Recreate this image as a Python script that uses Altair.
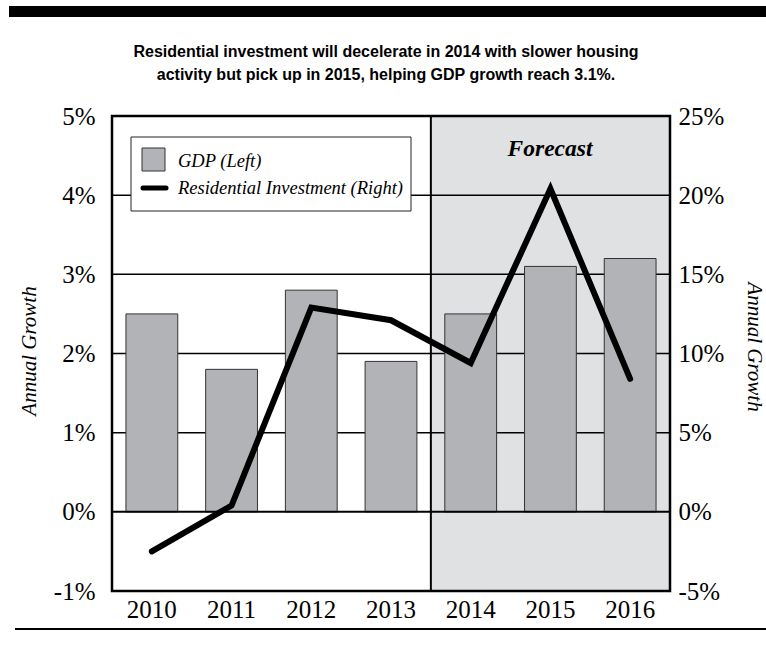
import altair as alt
import pandas as pd

years = ["2010", "2011", "2012", "2013", "2014", "2015", "2016"]
gdp = [2.5, 1.8, 2.8, 1.9, 2.5, 3.1, 3.2]
res_inv = [-2.5, 0.4, 12.9, 12.1, 9.4, 20.4, 8.4]
left_ticks = [-1, 0, 1, 2, 3, 4, 5]
right_ticks = [-5, 0, 5, 10, 15, 20, 25]
grid_vals = [1, 2, 3, 4]
title_lines = [
    "Residential investment will decelerate in 2014 with slower housing",
    "activity but pick up in 2015, helping GDP growth reach 3.1%.",
]
legend_labels = ["GDP (Left)", "Residential Investment (Right)"]
forecast_label = "Forecast"
axis_title = "Annual Growth"

W, H = 558, 475
SERIF = "Liberation Serif"
SANS = "Liberation Sans"

df = pd.DataFrame({"year": years, "gdp": gdp, "res": res_inv})
one = pd.DataFrame({"k": [0]})
grid_df = pd.DataFrame({"v": grid_vals})

xenc = alt.X("year:N", sort=years,
             scale=alt.Scale(paddingInner=0.35, paddingOuter=0.175),
             axis=alt.Axis(title=None, labelAngle=0, ticks=False, domain=False,
                           labelFont=SERIF, labelFontSize=25, labelColor="black",
                           labelPadding=6))

yleft_scale = alt.Scale(domain=[-1, 5], nice=False, zero=False)

shade = alt.Chart(one).mark_rect(color="#e0e1e3").encode(
    x=alt.value(W * 4 / 7), x2=alt.value(W), y=alt.value(0), y2=alt.value(H))

grid = alt.Chart(grid_df).mark_rule(color="black", strokeWidth=1.5).encode(
    y=alt.Y("v:Q", scale=yleft_scale, axis=None))

bars = alt.Chart(df).mark_bar(color="#b1b3b6", stroke="#333333", strokeWidth=1).encode(
    x=xenc,
    y=alt.Y("gdp:Q", scale=yleft_scale,
            axis=alt.Axis(orient="left", values=left_ticks, format=".0f",
                          labelExpr="datum.value + '%'", grid=False, ticks=False,
                          domain=False, labelFont=SERIF, labelFontSize=25,
                          labelColor="black", labelPadding=17,
                          title=axis_title, titleFont=SERIF, titleFontSize=21,
                          titleFontStyle="italic", titleFontWeight="normal",
                          titleColor="black", titleX=-83, titleY=H * 0.5 - 3,
                          titleAngle=270, titleBaseline="middle")),
)

zero = alt.Chart(one).mark_rule(color="black", strokeWidth=2).encode(
    y=alt.Y("z:Q", scale=yleft_scale, axis=None)).transform_calculate(z="0")

line = alt.Chart(df).mark_line(color="black", strokeWidth=6, strokeJoin="miter",
                               strokeCap="round").encode(
    x=alt.X("year:N", sort=years),
    y=alt.Y("res:Q", scale=alt.Scale(domain=[-5, 25], nice=False, zero=False),
            axis=alt.Axis(orient="right", values=right_ticks, format=".0f",
                          labelExpr="datum.value + '%'", grid=False, ticks=False,
                          domain=False, labelFont=SERIF, labelFontSize=25,
                          labelColor="black", labelPadding=8,
                          title=axis_title, titleFont=SERIF, titleFontSize=21,
                          titleFontStyle="italic", titleFontWeight="normal",
                          titleColor="black", titleX=83, titleY=H * 0.5 - 7,
                          titleAngle=90, titleBaseline="middle")),
)

divider = alt.Chart(one).mark_rule(color="black", strokeWidth=2).encode(
    x=alt.value(W * 4 / 7), y=alt.value(0), y2=alt.value(H))

border = alt.Chart(one).mark_rect(filled=False, stroke="black", strokeWidth=2.5).encode(
    x=alt.value(0), x2=alt.value(W), y=alt.value(0), y2=alt.value(H))

leg_box = alt.Chart(one).mark_rect(fill="white", stroke="#222222", strokeWidth=1).encode(
    x=alt.value(19), x2=alt.value(299), y=alt.value(21), y2=alt.value(95))
leg_sw = alt.Chart(one).mark_rect(fill="#b1b3b6", stroke="#333333", strokeWidth=1).encode(
    x=alt.value(30), x2=alt.value(53), y=alt.value(32), y2=alt.value(55))
leg_ln = alt.Chart(one).mark_rule(color="black", strokeWidth=5, strokeCap="round").encode(
    x=alt.value(31), x2=alt.value(54), y=alt.value(72))
leg_t1 = alt.Chart(one).mark_text(text=legend_labels[0], font=SERIF, fontSize=18.5,
                                  fontStyle="italic", align="left", baseline="middle",
                                  color="black").encode(x=alt.value(66), y=alt.value(45))
leg_t2 = alt.Chart(one).mark_text(text=legend_labels[1], font=SERIF, fontSize=18.5,
                                  fontStyle="italic", align="left", baseline="middle",
                                  color="black").encode(x=alt.value(66), y=alt.value(72))

fc = alt.Chart(one).mark_text(text=forecast_label, font=SERIF, fontSize=23.5,
                              fontStyle="italic", fontWeight="bold", align="center",
                              baseline="middle", color="black").encode(
    x=alt.value(438), y=alt.value(33))

t1 = alt.Chart(one).mark_text(text=title_lines[0], font=SANS, fontSize=16,
                              fontWeight="bold", align="center", baseline="middle",
                              color="black").encode(x=alt.value(274), y=alt.value(-64))
t2 = alt.Chart(one).mark_text(text=title_lines[1], font=SANS, fontSize=16,
                              fontWeight="bold", align="center", baseline="middle",
                              color="black").encode(x=alt.value(274), y=alt.value(-41))

top_bar = alt.Chart(one).mark_rule(color="black", strokeWidth=11).encode(
    x=alt.value(-103), x2=alt.value(654), y=alt.value(-104.5))
bottom_rule = alt.Chart(one).mark_rule(color="black", strokeWidth=2).encode(
    x=alt.value(-97), x2=alt.value(654), y=alt.value(513))

chart = alt.layer(
    shade, grid, bars, zero, line, divider, border,
    leg_box, leg_sw, leg_ln, leg_t1, leg_t2, fc, t1, t2, top_bar, bottom_rule,
).resolve_scale(y="independent").properties(
    width=W, height=H,
    padding={"left": 112, "top": 116, "right": 96, "bottom": 60},
    autosize=alt.AutoSizeParams(type="none"),
).configure_view(stroke=None).configure(background="white")

chart.save("out.html", embed_options={"renderer": "svg", "actions": False})
